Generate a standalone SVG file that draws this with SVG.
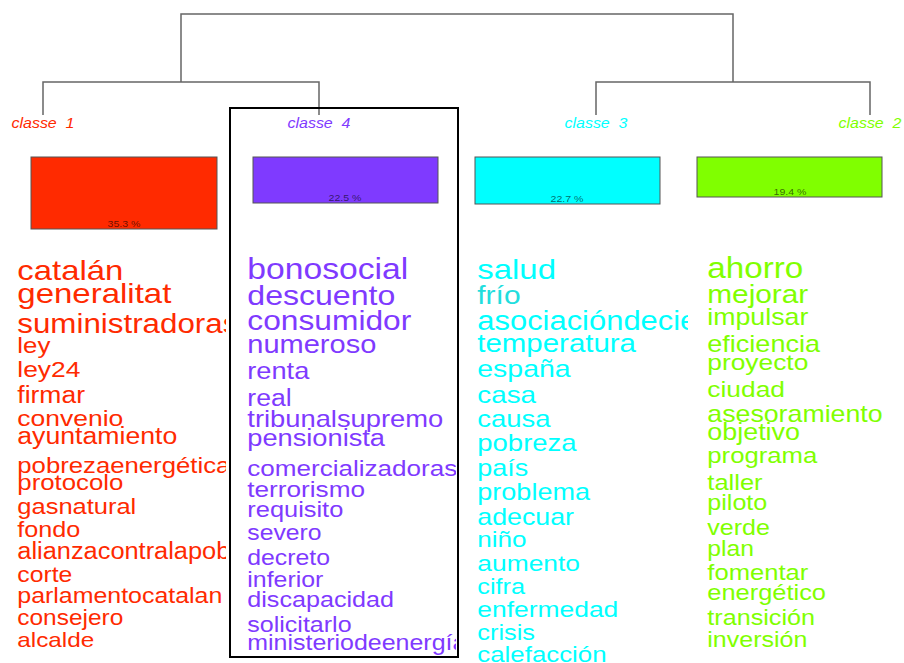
<svg xmlns="http://www.w3.org/2000/svg" width="904" height="663" viewBox="0 0 904 663">
<style>
.ln{stroke:#666;stroke-width:1.5;fill:none}
.cl{font-family:"Liberation Sans",Arial,sans-serif;font-style:italic;font-size:14px;text-anchor:middle;white-space:pre}
.bar{stroke:#555;stroke-width:1}
.pc{font-family:"Liberation Sans",Arial,sans-serif;font-size:9.5px;text-anchor:middle;fill:#000;fill-opacity:0.6}
.w{font-family:"Liberation Sans",Arial,sans-serif}
.c1{fill:#FF2A00}.c4{fill:#7F3AFF}.c3{fill:#00FFFF}.c2{fill:#80FF00}
</style>
<defs>
<clipPath id="k1"><rect x="0" y="240" width="226" height="423"/></clipPath>
<clipPath id="k4"><rect x="232" y="240" width="224" height="415"/></clipPath>
<clipPath id="k3"><rect x="460" y="240" width="228" height="423"/></clipPath>
</defs>
<g id="connectors">
<polyline class="ln" points="181,82 181,14 733,14 733,82"/>
<polyline class="ln" points="43,115 43,82 319,82 319,115"/>
<polyline class="ln" points="596,115 596,82 870,82 870,115"/>
</g>
<rect x="230" y="108" width="228" height="549" fill="none" stroke="#000" stroke-width="2"/>
<g id="classe1">
<text class="cl c1" x="43" y="128" textLength="63" lengthAdjust="spacingAndGlyphs">classe  1</text>
<rect class="bar c1" x="31" y="157" width="186" height="72"/>
<text class="pc" x="124" y="227" textLength="33" lengthAdjust="spacingAndGlyphs">35.3 %</text>
<g clip-path="url(#k1)" class="w c1">
<text x="17.3" y="279.5" font-size="28.5" textLength="106" lengthAdjust="spacingAndGlyphs">catalán</text>
<text x="17.3" y="303.3" font-size="28.5" textLength="154" lengthAdjust="spacingAndGlyphs">generalitat</text>
<text x="17.3" y="333" font-size="27" textLength="221" lengthAdjust="spacingAndGlyphs">suministradoras</text>
<text x="17.3" y="353" font-size="22.5" textLength="33" lengthAdjust="spacingAndGlyphs">ley</text>
<text x="17.3" y="376.7" font-size="22.8" textLength="63" lengthAdjust="spacingAndGlyphs">ley24</text>
<text x="17.3" y="402.5" font-size="23" textLength="67.7" lengthAdjust="spacingAndGlyphs">firmar</text>
<text x="17.3" y="425.5" font-size="22.9" textLength="106" lengthAdjust="spacingAndGlyphs">convenio</text>
<text x="17.3" y="444" font-size="23" textLength="160" lengthAdjust="spacingAndGlyphs">ayuntamiento</text>
<text x="17.3" y="473" font-size="22.6" textLength="213" lengthAdjust="spacingAndGlyphs">pobrezaenergética</text>
<text x="17.3" y="490" font-size="22.3" textLength="106" lengthAdjust="spacingAndGlyphs">protocolo</text>
<text x="17.3" y="514" font-size="22.1" textLength="119" lengthAdjust="spacingAndGlyphs">gasnatural</text>
<text x="17.3" y="537" font-size="21.8" textLength="63" lengthAdjust="spacingAndGlyphs">fondo</text>
<text x="17.3" y="558.5" font-size="23" textLength="213" lengthAdjust="spacingAndGlyphs">alianzacontralapob</text>
<text x="17.3" y="581.7" font-size="21.5" textLength="55" lengthAdjust="spacingAndGlyphs">corte</text>
<text x="17.3" y="603" font-size="21.6" textLength="205" lengthAdjust="spacingAndGlyphs">parlamentocatalan</text>
<text x="17.3" y="625" font-size="21.2" textLength="106" lengthAdjust="spacingAndGlyphs">consejero</text>
<text x="17.3" y="646.7" font-size="21.1" textLength="77" lengthAdjust="spacingAndGlyphs">alcalde</text>
</g>
</g>
<g id="classe4">
<text class="cl c4" x="319" y="128" textLength="63" lengthAdjust="spacingAndGlyphs">classe  4</text>
<rect class="bar c4" x="253" y="157" width="185" height="46"/>
<text class="pc" x="345" y="201" textLength="33" lengthAdjust="spacingAndGlyphs">22.5 %</text>
<g clip-path="url(#k4)" class="w c4">
<text x="247.3" y="279.3" font-size="30" textLength="161" lengthAdjust="spacingAndGlyphs">bonosocial</text>
<text x="247.3" y="305" font-size="28" textLength="148" lengthAdjust="spacingAndGlyphs">descuento</text>
<text x="247.3" y="330" font-size="27.5" textLength="164" lengthAdjust="spacingAndGlyphs">consumidor</text>
<text x="247.3" y="353.3" font-size="25.2" textLength="129" lengthAdjust="spacingAndGlyphs">numeroso</text>
<text x="247.3" y="379.3" font-size="23.6" textLength="62" lengthAdjust="spacingAndGlyphs">renta</text>
<text x="247.3" y="405.5" font-size="23.5" textLength="44.3" lengthAdjust="spacingAndGlyphs">real</text>
<text x="247.3" y="426.5" font-size="24" textLength="196" lengthAdjust="spacingAndGlyphs">tribunalsupremo</text>
<text x="247.3" y="445.5" font-size="23.5" textLength="137.7" lengthAdjust="spacingAndGlyphs">pensionista</text>
<text x="247.3" y="476" font-size="22.5" textLength="210" lengthAdjust="spacingAndGlyphs">comercializadoras</text>
<text x="247.3" y="496.7" font-size="22.7" textLength="117.7" lengthAdjust="spacingAndGlyphs">terrorismo</text>
<text x="247.3" y="516.7" font-size="22" textLength="96" lengthAdjust="spacingAndGlyphs">requisito</text>
<text x="247.3" y="540" font-size="21.5" textLength="74.3" lengthAdjust="spacingAndGlyphs">severo</text>
<text x="247.3" y="565" font-size="21.5" textLength="82.7" lengthAdjust="spacingAndGlyphs">decreto</text>
<text x="247.3" y="587.3" font-size="21.6" textLength="76" lengthAdjust="spacingAndGlyphs">inferior</text>
<text x="247.3" y="606.7" font-size="22" textLength="146.7" lengthAdjust="spacingAndGlyphs">discapacidad</text>
<text x="247.3" y="631.7" font-size="21.7" textLength="104.3" lengthAdjust="spacingAndGlyphs">solicitarlo</text>
<text x="247.3" y="650" font-size="22.8" textLength="219" lengthAdjust="spacingAndGlyphs">ministeriodeenergía</text>
</g>
</g>
<g id="classe3">
<text class="cl c3" x="596" y="128" textLength="63" lengthAdjust="spacingAndGlyphs">classe  3</text>
<rect class="bar c3" x="475" y="157" width="185" height="47"/>
<text class="pc" x="567" y="202" textLength="33" lengthAdjust="spacingAndGlyphs">22.7 %</text>
<g clip-path="url(#k3)" class="w c3">
<text x="477.3" y="279.3" font-size="28.5" textLength="78.7" lengthAdjust="spacingAndGlyphs">salud</text>
<text x="477.3" y="304" font-size="26" textLength="43.3" lengthAdjust="spacingAndGlyphs" fill="#22DDDD">frío</text>
<text x="477.3" y="330" font-size="26.8" textLength="220" lengthAdjust="spacingAndGlyphs">asociacióndecie</text>
<text x="477.3" y="351.7" font-size="25.4" textLength="158.7" lengthAdjust="spacingAndGlyphs">temperatura</text>
<text x="477.3" y="376.7" font-size="24.6" textLength="93.3" lengthAdjust="spacingAndGlyphs">españa</text>
<text x="477.3" y="403.3" font-size="24" textLength="58.7" lengthAdjust="spacingAndGlyphs">casa</text>
<text x="477.3" y="426.7" font-size="23.8" textLength="73.3" lengthAdjust="spacingAndGlyphs">causa</text>
<text x="477.3" y="450.7" font-size="23.8" textLength="99.3" lengthAdjust="spacingAndGlyphs">pobreza</text>
<text x="477.3" y="476" font-size="23.4" textLength="51" lengthAdjust="spacingAndGlyphs">país</text>
<text x="477.3" y="500" font-size="23.4" textLength="112.7" lengthAdjust="spacingAndGlyphs">problema</text>
<text x="477.3" y="525" font-size="23.2" textLength="96.7" lengthAdjust="spacingAndGlyphs">adecuar</text>
<text x="477.3" y="547.3" font-size="22.6" textLength="49.3" lengthAdjust="spacingAndGlyphs">niño</text>
<text x="477.3" y="570.7" font-size="22.9" textLength="102.7" lengthAdjust="spacingAndGlyphs">aumento</text>
<text x="477.3" y="594" font-size="21.9" textLength="47.7" lengthAdjust="spacingAndGlyphs">cifra</text>
<text x="477.3" y="617.3" font-size="22.9" textLength="141" lengthAdjust="spacingAndGlyphs">enfermedad</text>
<text x="477.3" y="640" font-size="22" textLength="57.7" lengthAdjust="spacingAndGlyphs">crisis</text>
<text x="477.3" y="661.7" font-size="22.4" textLength="129.3" lengthAdjust="spacingAndGlyphs">calefacción</text>
</g>
</g>
<g id="classe2">
<text class="cl c2" x="870" y="128" textLength="63" lengthAdjust="spacingAndGlyphs">classe  2</text>
<rect class="bar c2" x="697" y="157" width="185" height="40"/>
<text class="pc" x="790" y="195" textLength="33" lengthAdjust="spacingAndGlyphs">19.4 %</text>
<g class="w c2">
<text x="707.3" y="278" font-size="28.8" textLength="96" lengthAdjust="spacingAndGlyphs">ahorro</text>
<text x="707.3" y="303.3" font-size="25.8" textLength="101" lengthAdjust="spacingAndGlyphs">mejorar</text>
<text x="707.3" y="325" font-size="23.2" textLength="101" lengthAdjust="spacingAndGlyphs">impulsar</text>
<text x="707.3" y="351.7" font-size="23.4" textLength="112.7" lengthAdjust="spacingAndGlyphs">eficiencia</text>
<text x="707.3" y="370" font-size="22.8" textLength="101" lengthAdjust="spacingAndGlyphs">proyecto</text>
<text x="707.3" y="396.7" font-size="22.8" textLength="77.7" lengthAdjust="spacingAndGlyphs">ciudad</text>
<text x="707.3" y="421.7" font-size="23.2" textLength="175.3" lengthAdjust="spacingAndGlyphs">asesoramiento</text>
<text x="707.3" y="440" font-size="23.3" textLength="92.7" lengthAdjust="spacingAndGlyphs">objetivo</text>
<text x="707.3" y="462.7" font-size="22.3" textLength="110" lengthAdjust="spacingAndGlyphs">programa</text>
<text x="707.3" y="490" font-size="22.1" textLength="55.3" lengthAdjust="spacingAndGlyphs">taller</text>
<text x="707.3" y="510" font-size="21.8" textLength="60" lengthAdjust="spacingAndGlyphs">piloto</text>
<text x="707.3" y="535" font-size="21.7" textLength="62.7" lengthAdjust="spacingAndGlyphs">verde</text>
<text x="707.3" y="556" font-size="21.4" textLength="46.7" lengthAdjust="spacingAndGlyphs">plan</text>
<text x="707.3" y="580" font-size="22.2" textLength="101" lengthAdjust="spacingAndGlyphs">fomentar</text>
<text x="707.3" y="600" font-size="22" textLength="118.7" lengthAdjust="spacingAndGlyphs">energético</text>
<text x="707.3" y="625" font-size="21.8" textLength="107.7" lengthAdjust="spacingAndGlyphs">transición</text>
<text x="707.3" y="646.7" font-size="21.7" textLength="100" lengthAdjust="spacingAndGlyphs">inversión</text>
</g>
</g>
</svg>
